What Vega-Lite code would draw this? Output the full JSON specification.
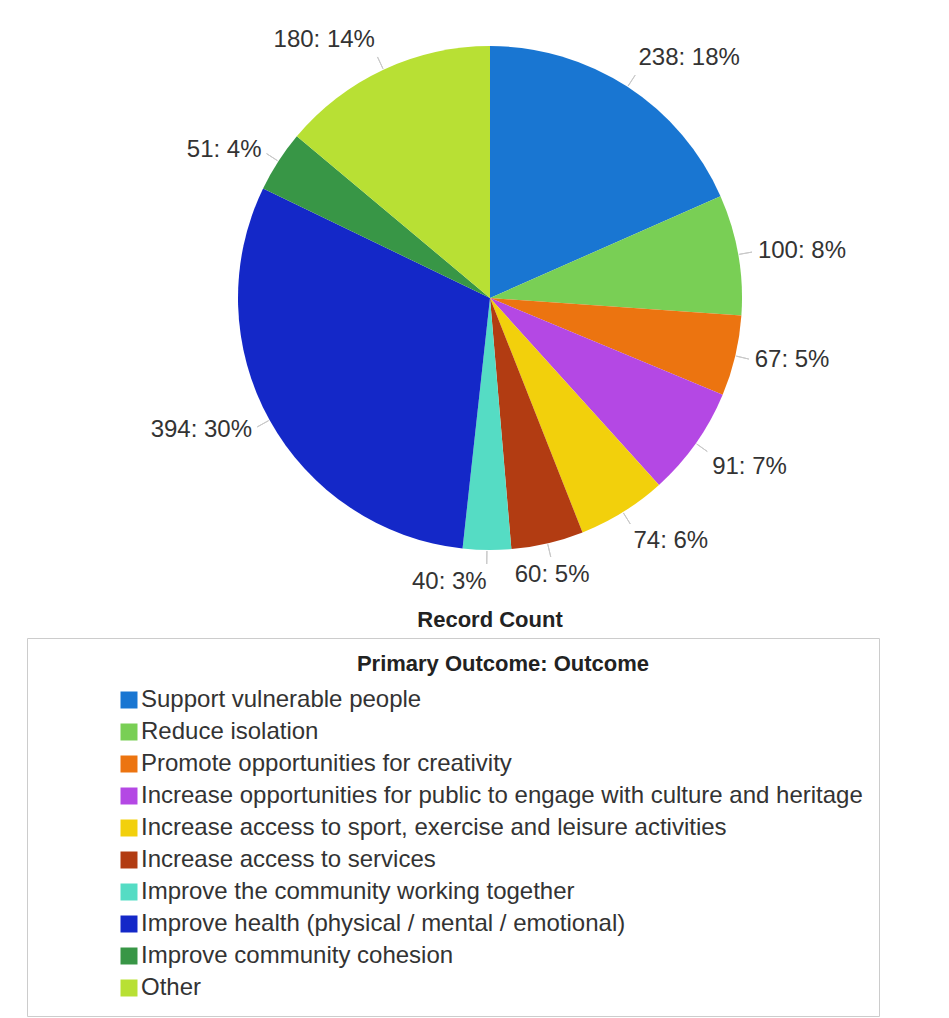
{
  "$schema": "https://vega.github.io/schema/vega-lite/v6.json",
  "width": 918,
  "height": 596,
  "autosize": {"type": "none"},
  "padding": {"left": 31, "top": 0, "right": 0, "bottom": 422},
  "background": "white",
  "config": {"view": {"stroke": null}, "font": "Liberation Sans"},
  "title": {"text": "Record Count", "orient": "bottom", "anchor": "middle", "frame": "group", "fontSize": 22, "fontWeight": "bold", "color": "#222222", "baseline": "top", "offset": 0, "dy": -407, "font": "Liberation Sans"},
  "data": {"values": [
    {"outcome": "Support vulnerable people", "count": 238},
    {"outcome": "Reduce isolation", "count": 100},
    {"outcome": "Promote opportunities for creativity", "count": 67},
    {"outcome": "Increase opportunities for public to engage with culture and heritage", "count": 91},
    {"outcome": "Increase access to sport, exercise and leisure activities", "count": 74},
    {"outcome": "Increase access to services", "count": 60},
    {"outcome": "Improve the community working together", "count": 40},
    {"outcome": "Improve health (physical / mental / emotional)", "count": 394},
    {"outcome": "Improve community cohesion", "count": 51},
    {"outcome": "Other", "count": 180}
  ]},
  "transform": [
    {"window": [{"op": "row_number", "as": "rank"}]},
    {"joinaggregate": [{"op": "sum", "field": "count", "as": "total"}]},
    {"calculate": "datum.count + ': ' + format(datum.count / datum.total, '.0%')", "as": "label"}
  ],
  "encoding": {
    "theta": {"field": "count", "type": "quantitative", "stack": true},
    "order": {"field": "rank", "type": "quantitative"}
  },
  "layer": [
    {
      "mark": {"type": "arc", "outerRadius": 252},
      "encoding": {
        "color": {
          "field": "outcome",
          "type": "nominal",
          "scale": {
            "domain": [
              "Support vulnerable people",
              "Reduce isolation",
              "Promote opportunities for creativity",
              "Increase opportunities for public to engage with culture and heritage",
              "Increase access to sport, exercise and leisure activities",
              "Increase access to services",
              "Improve the community working together",
              "Improve health (physical / mental / emotional)",
              "Improve community cohesion",
              "Other"
            ],
            "range": ["#1976d2", "#79cf55", "#ec7410", "#b448e4", "#f2d00c", "#b23c12", "#55dcc4", "#1428c8", "#389646", "#b8e034"]
          },
          "legend": {
            "orient": "none",
            "legendX": -4,
            "legendY": 638,
            "direction": "vertical",
            "title": "Primary Outcome: Outcome",
            "titleFontSize": 22,
            "titleFontWeight": "bold",
            "titleColor": "#222222",
            "titleAnchor": "middle",
            "titleAlign": "center",
            "titlePadding": 12,
            "titleLimit": 1000,
            "titleFont": "Liberation Sans",
            "labelFontSize": 24,
            "labelColor": "#333333",
            "labelLimit": 2000,
            "labelOffset": 0,
            "labelFont": "Liberation Sans",
            "symbolType": "square",
            "symbolSize": 289,
            "symbolStrokeWidth": 0,
            "symbolOpacity": 1,
            "symbolOffset": 74,
            "rowPadding": 8,
            "padding": 16,
            "strokeColor": "#cccccc",
            "encoding": {"title": {"dx": {"value": 50}}}
          }
        }
      }
    },
    {
      "mark": {"type": "arc", "filled": false, "innerRadius": 253, "outerRadius": 266, "padAngle": 3.5, "strokeWidth": 1},
      "encoding": {"color": {"value": "#c8c8c8"}}
    },
    {
      "mark": {
        "type": "text",
        "radius": 272,
        "fontSize": 24,
        "font": "Liberation Sans",
        "align": {"expr": "sin(PI * (datum.count_start + datum.count_end) / datum.total) > 0.25 ? 'left' : (sin(PI * (datum.count_start + datum.count_end) / datum.total) < 0 ? 'right' : 'center')"},
        "baseline": {"expr": "cos(PI * (datum.count_start + datum.count_end) / datum.total) > 0.55 ? 'bottom' : (cos(PI * (datum.count_start + datum.count_end) / datum.total) < -0.55 ? 'top' : 'middle')"}
      },
      "encoding": {
        "text": {"field": "label", "type": "nominal"},
        "color": {"value": "#333333"}
      }
    }
  ]
}
